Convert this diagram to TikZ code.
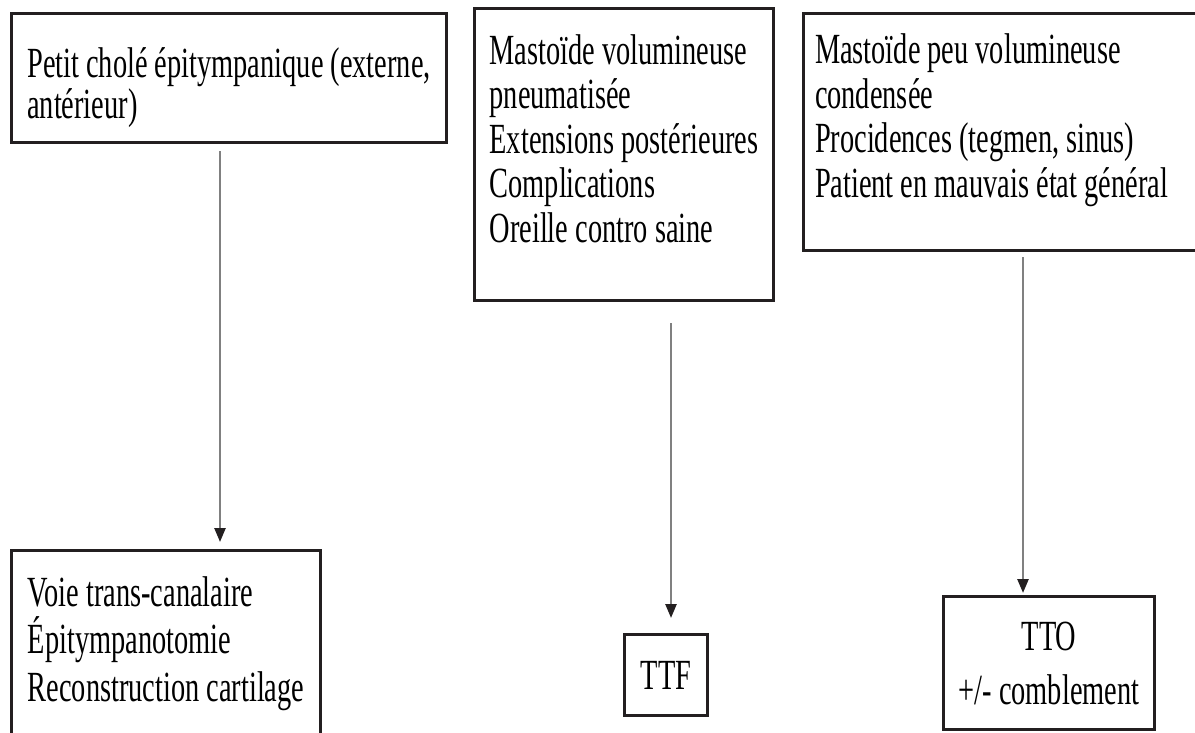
\documentclass[tikz,border=0pt]{standalone}
\usepackage{fontspec}
\setmainfont{Liberation Serif}[FakeStretch=0.66]
\usepackage{xcolor}
\usetikzlibrary{arrows.meta,positioning}
\definecolor{ink}{RGB}{35,31,32}
\definecolor{stem}{RGB}{128,128,128}
\spaceskip=8pt
\lineskiplimit=-40pt

\begin{document}
\begin{tikzpicture}[
    x=1pt, y=-1pt,
    panel/.style={draw=ink, line width=3pt, align=left, inner xsep=13.5pt, inner ysep=0pt,
      font=\fontsize{43}{#1}\selectfont},
    endbox/.style={draw=ink, line width=3pt, align=center, inner sep=0pt,
      font=\fontsize{43}{54}\selectfont},
    arr/.style={draw=stem, line width=2.5pt, -{Triangle[length=14pt,width=11pt,color=ink]}}
]
\useasboundingbox[fill=white] (0,0) rectangle (1195,733);

% top row
\node[panel=41, anchor=north west, minimum width=435pt] (chole) at (10,12)
  {\rule{0pt}{64.5pt}Petit cholé épitympanique (externe,\\antérieur)\rule[-24pt]{0pt}{0pt}};
\node[panel=44.5, anchor=north west, minimum width=299pt] (large) at (473,7)
  {\rule{0pt}{55.5pt}Mastoïde volumineuse\\pneumatisée\\Extensions postérieures\\Complications\\Oreille contro saine\rule[-58.5pt]{0pt}{0pt}};
\node[panel=44.5, anchor=north west, align=flush left, inner xsep=11.5pt, text width=420pt] (small) at (802,12)
  {\rule{0pt}{50.5pt}Mastoïde peu volumineuse\\condensée\\Procidences (tegmen, sinus)\\Patient en mauvais état général\rule[-53pt]{0pt}{0pt}};

% bottom row
\node[panel=47.5, anchor=north west, minimum width=309pt] (canal) at (10,549)
  {\rule{0pt}{55.5pt}Voie trans-canalaire\\Épitympanotomie\\Reconstruction cartilage\rule[-40pt]{0pt}{0pt}};
\node[endbox, anchor=north west, minimum width=83pt, minimum height=81pt] (ttf) at (623,633) {TTF};
\node[endbox, anchor=north west, minimum width=211pt, minimum height=133pt] (tto) at (942,595) {TTO\\+/- comblement};

\draw[arr, shorten <=7pt, shorten >=7pt] ([xshift=-9pt]chole.south) -- ([xshift=-9pt]chole.south |- canal.north);
\draw[arr, shorten <=21pt, shorten >=15pt] ([xshift=5pt]ttf.north |- large.south) -- ([xshift=5pt]ttf.north);
\draw[arr, shorten <=5pt, shorten >=2pt] ([xshift=-26pt]tto.north |- small.south) -- ([xshift=-26pt]tto.north);
\end{tikzpicture}
\end{document}
